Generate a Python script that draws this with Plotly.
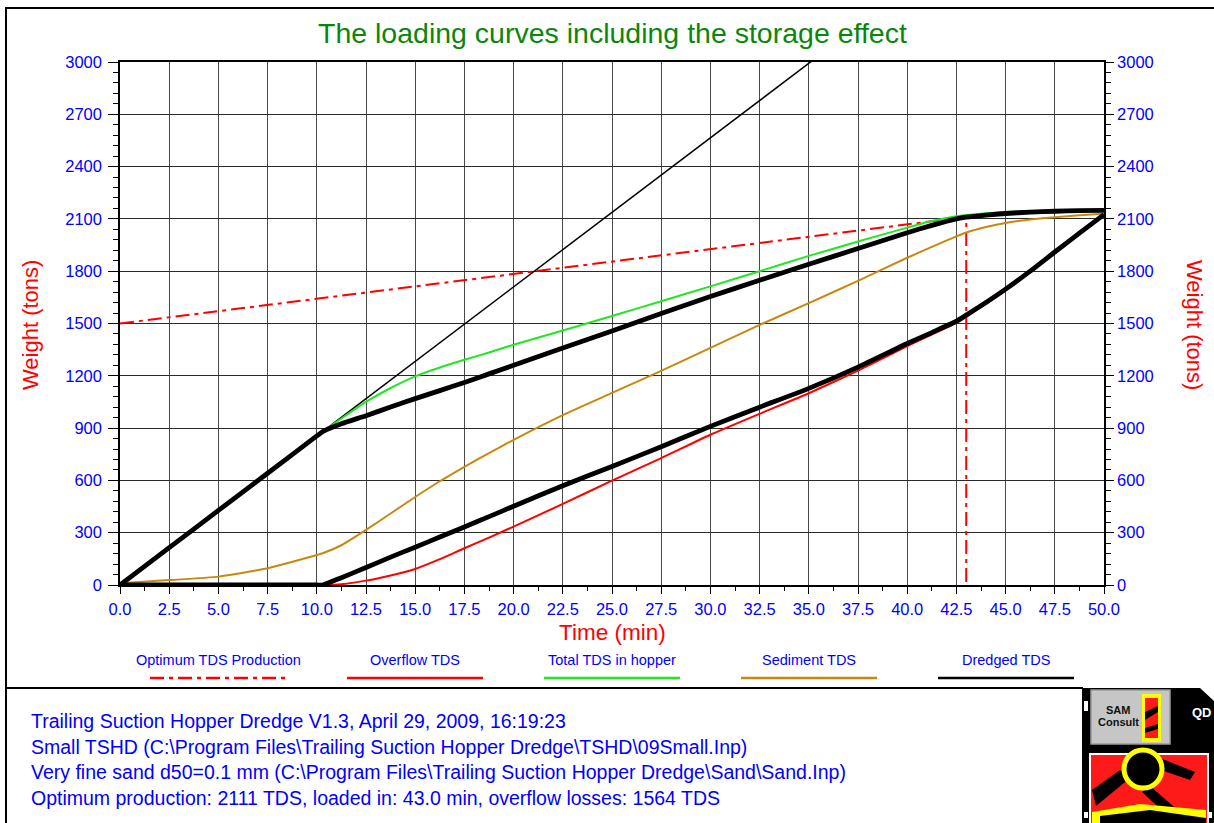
import plotly.graph_objects as go

# ---------------------------------------------------------------- data
TIME_MIN = [0, 2.5, 5, 7.5, 10, 10.3, 11.25, 12.5, 13.75, 15, 16.25, 17.5, 18.75, 20,
            22.5, 25, 27.5, 30, 32.5, 35, 37.5, 40, 41.25, 42.5, 43, 44, 45, 46.25,
            47.5, 48.75, 50]

# dredged production (thin black, rises until it leaves the chart)
DREDGED_TDS = [0, 214, 428, 641, 855, 880, 962, 1069, 1176, 1282, 1389, 1496, 1603, 1710,
               1924, 2137, 2351, 2565, 2779, 2992, 3206, 3420, 3527, 3634, 3676, 3762, 3847,
               3954, 4061, 4168, 4275]

# total TDS in hopper
TOTAL_TDS = [0, 214, 428, 641, 855, 880, 955, 1050, 1130, 1197, 1248, 1292, 1334, 1378,
             1460, 1543, 1628, 1713, 1800, 1888, 1970, 2050, 2088, 2115, 2122, 2132, 2139,
             2145, 2148, 2150, 2152]

# hopper load including the storage effect (thick black, upper)
STORED_TDS = [0, 214, 428, 641, 855, 880, 925, 971, 1021, 1069, 1115, 1162, 1211, 1260,
              1359, 1457, 1557, 1655, 1748, 1840, 1930, 2021, 2063, 2100, 2110, 2122, 2131,
              2139, 2144, 2147, 2149]

# sediment TDS
SEDIMENT_TDS = [10, 28, 48, 96, 172, 182, 228, 316, 410, 505, 595, 678, 757, 833,
                975, 1102, 1228, 1360, 1492, 1617, 1745, 1877, 1940, 2000, 2022, 2053, 2077,
                2096, 2110, 2121, 2130]

# overflow TDS
OVERFLOW_TDS = [0, 0, 0, 0, 0, 0, 4, 25, 55, 92, 148, 211, 272, 335,
                465, 599, 728, 862, 982, 1100, 1230, 1370, 1437, 1504, 1540, 1612, 1690,
                1795, 1905, 2012, 2121]

# overflow losses including the storage effect (thick black, lower)
OVERFLOW_STORED_TDS = [0, 0, 0, 0, 0, 0, 42, 100, 160, 217, 275, 333, 392, 452,
                       569, 680, 793, 910, 1020, 1128, 1250, 1385, 1448, 1513, 1548, 1620,
                       1697, 1800, 1910, 2018, 2125]

# optimum production line and the optimum loading time
OPT_TIME = [0, 43.0, 43.0]
OPT_TDS = [1500, 2111, 0]

X_TICKS = [i * 2.5 for i in range(21)]
Y_TICKS = [i * 300 for i in range(11)]

LEGEND_NAMES = ["Optimum TDS Production", "Overflow TDS", "Total TDS in hopper",
                "Sediment TDS", "Dredged TDS"]

INFO_LINES = [
    "Trailing Suction Hopper Dredge V1.3, April 29, 2009, 16:19:23",
    "Small TSHD (C:\\Program Files\\Trailing Suction Hopper Dredge\\TSHD\\09Small.Inp)",
    "Very fine sand d50=0.1 mm (C:\\Program Files\\Trailing Suction Hopper Dredge\\Sand\\Sand.Inp)",
    "Optimum production: 2111 TDS, loaded in: 43.0 min, overflow losses: 1564 TDS",
]

# ---------------------------------------------------------------- styles
RED = "#ff0000"
GREEN = "#22e622"
OCHRE = "#c8880e"
BLUE = "#0000ff"
FONT = "Liberation Sans, Arial, sans-serif"
OPT_DASH = "14px,5px,4px,5px"
SMOOTH = dict(shape="spline", smoothing=0.5)

W, H = 1214, 823
ML, MR, MT, MB = 120, 110, 62, 238
PW, PH = W - ML - MR, H - MT - MB


def px(x):
    return (x - ML) / PW


def py(y):
    return (H - MB - y) / PH


fig = go.Figure()

fig.add_trace(go.Scatter(x=OPT_TIME, y=OPT_TDS, mode="lines",
                         line=dict(color=RED, width=2, dash=OPT_DASH)))
fig.add_trace(go.Scatter(x=TIME_MIN, y=DREDGED_TDS, mode="lines",
                         line=dict(color="black", width=1.5)))
fig.add_trace(go.Scatter(x=TIME_MIN, y=SEDIMENT_TDS, mode="lines",
                         line=dict(color=OCHRE, width=2, **SMOOTH)))
fig.add_trace(go.Scatter(x=TIME_MIN, y=TOTAL_TDS, mode="lines",
                         line=dict(color=GREEN, width=2, **SMOOTH)))
fig.add_trace(go.Scatter(x=TIME_MIN, y=OVERFLOW_TDS, mode="lines",
                         line=dict(color=RED, width=2, **SMOOTH)))
fig.add_trace(go.Scatter(x=TIME_MIN, y=STORED_TDS, mode="lines",
                         line=dict(color="black", width=4.8, **SMOOTH)))
fig.add_trace(go.Scatter(x=TIME_MIN, y=OVERFLOW_STORED_TDS, mode="lines",
                         line=dict(color="black", width=4.8, **SMOOTH)))
# anchor for the right-hand weight axis
fig.add_trace(go.Scatter(x=TIME_MIN[:1], y=SEDIMENT_TDS[:1], yaxis="y2", mode="markers",
                         marker=dict(opacity=0), hoverinfo="skip"))

axis_common = dict(showline=True, linecolor="black", linewidth=1.5,
                   tickfont=dict(family=FONT, size=16.5, color=BLUE),
                   ticks="outside", tickcolor="black", zeroline=False)

fig.update_layout(
    width=W, height=H,
    margin=dict(l=ML, r=MR, t=MT, b=MB),
    paper_bgcolor="white", plot_bgcolor="white",
    showlegend=False,
    font=dict(family=FONT),
    xaxis=dict(range=[0, 50], tickvals=X_TICKS, tickformat=".1f", ticklen=7,
               showgrid=True, gridcolor="#4a4a4a", gridwidth=1, mirror=True,
               minor=dict(dtick=1.25, tick0=0, ticklen=4, ticks="outside",
                          tickcolor="black", showgrid=False),
               ticklabelstandoff=1, **axis_common),
    yaxis=dict(range=[0, 3000], tickvals=Y_TICKS, ticklen=10,
               showgrid=True, gridcolor="#2a2a2a", gridwidth=1,
               minor=dict(dtick=60, tick0=0, ticklen=5, ticks="outside",
                          tickcolor="black", showgrid=False),
               ticklabelstandoff=3, **axis_common),
    yaxis2=dict(range=[0, 3000], tickvals=Y_TICKS, ticklen=8, overlaying="y",
                side="right", showgrid=False,
                minor=dict(dtick=60, tick0=0, ticklen=5, ticks="outside",
                           tickcolor="black", showgrid=False),
                ticklabelstandoff=0, **axis_common),
)

annotations = [
    dict(text="The loading curves including the storage effect", x=px(612), y=py(33),
         font=dict(size=28.5, color="#0a870a")),
    dict(text="Time (min)", x=px(612), y=py(632), font=dict(size=22.5, color=RED)),
    dict(text="Weight (tons)", x=px(30), y=py(325), textangle=-90,
         font=dict(size=22, color=RED)),
    dict(text="Weight (tons)", x=px(1195), y=py(325), textangle=90,
         font=dict(size=22, color=RED)),
]

shapes = []

# legend row: label over a line sample
legend_styles = [(RED, OPT_DASH), (RED, "solid"), (GREEN, "solid"), (OCHRE, "solid"),
                 ("black", "solid")]
for i, (name, (col, dash)) in enumerate(zip(LEGEND_NAMES, legend_styles)):
    cx = 218 + i * 197
    annotations.append(dict(text=name, x=px(cx), y=py(660),
                            font=dict(size=14.5, color=BLUE)))
    shapes.append(dict(type="line", xref="paper", yref="paper",
                       x0=px(cx - 68), x1=px(cx + 68), y0=py(678), y1=py(678),
                       line=dict(color=col, width=2.5, dash=dash)))

# run information
for i, line in enumerate(INFO_LINES):
    annotations.append(dict(text=line, x=px(29), y=py(721 + i * 25.5), xanchor="left",
                            font=dict(size=19.5, color=BLUE)))

for a in annotations:
    a.setdefault("xref", "paper")
    a.setdefault("yref", "paper")
    a.setdefault("showarrow", False)
    a.setdefault("xanchor", "center")
    a.setdefault("yanchor", "middle")
    a["font"].setdefault("family", FONT)

# page frame and separator
frame = dict(color="black", width=2)
shapes += [
    dict(type="line", xref="paper", yref="paper", x0=px(6), x1=px(6), y0=py(7), y1=py(830),
         line=frame),
    dict(type="line", xref="paper", yref="paper", x0=px(6), x1=px(1220), y0=py(8), y1=py(8),
         line=frame),
    dict(type="line", xref="paper", yref="paper", x0=px(6), x1=px(1083), y0=py(688),
         y1=py(688), line=frame),
]


def rect(x0, y0, x1, y1, fill, line_col=None, lw=0, kind="rect"):
    return dict(type=kind, xref="paper", yref="paper", x0=px(x0), x1=px(x1),
                y0=py(y1), y1=py(y0), fillcolor=fill,
                line=dict(color=line_col or fill, width=lw))


def poly(points, fill):
    d = "M " + " L ".join(f"{px(x)},{py(y)}" for x, y in points) + " Z"
    return dict(type="path", xref="paper", yref="paper", path=d, fillcolor=fill,
                line=dict(width=0))


# company badge in the lower right corner
shapes += [
    poly([(1082, 688), (1200, 688), (1214, 701), (1214, 823), (1082, 823)], "black"),
    rect(1084, 701, 1088, 711, "white"),
    rect(1091, 690, 1170, 744, "#c6c6c6", "#9a9a9a", 1.5),
    rect(1142, 694, 1161, 742, "#ffff00"),
    rect(1145, 698, 1158, 738, "#ff1a1a"),
    poly([(1145, 712), (1158, 706), (1158, 712), (1145, 720)], "black"),
    poly([(1145, 728), (1158, 724), (1158, 729), (1145, 733)], "black"),
    rect(1090, 754, 1208, 826, "#ff1a1a", "white", 2),
    poly([(1092, 790), (1120, 770), (1130, 778), (1096, 806)], "black"),
    poly([(1160, 758), (1195, 772), (1190, 780), (1155, 768)], "black"),
    poly([(1150, 786), (1180, 812), (1170, 818), (1142, 792)], "black"),
    poly([(1092, 812), (1140, 804), (1206, 810), (1206, 826), (1092, 826)], "#ffff00"),
    poly([(1100, 816), (1150, 810), (1206, 818), (1206, 826), (1100, 826)], "black"),
    rect(1124, 750, 1162, 788, "black", "#ffff00", 5, kind="circle"),
    rect(1084, 812, 1088, 818, "white"),
    rect(1208, 812, 1212, 818, "white"),
]
annotations_badge = [
    dict(text="<b>SAM</b>", x=px(1118), y=py(710), font=dict(size=11, color="#111")),
    dict(text="<b>Consult</b>", x=px(1118), y=py(722), font=dict(size=11, color="#111")),
    dict(text="<b>QD</b>", x=px(1202), y=py(712), font=dict(size=13, color="white")),
]
for a in annotations_badge:
    a.update(xref="paper", yref="paper", showarrow=False, xanchor="center",
             yanchor="middle")
    a["font"]["family"] = FONT
annotations += annotations_badge

fig.update_layout(annotations=annotations, shapes=shapes)

fig.write_html("out.html")
